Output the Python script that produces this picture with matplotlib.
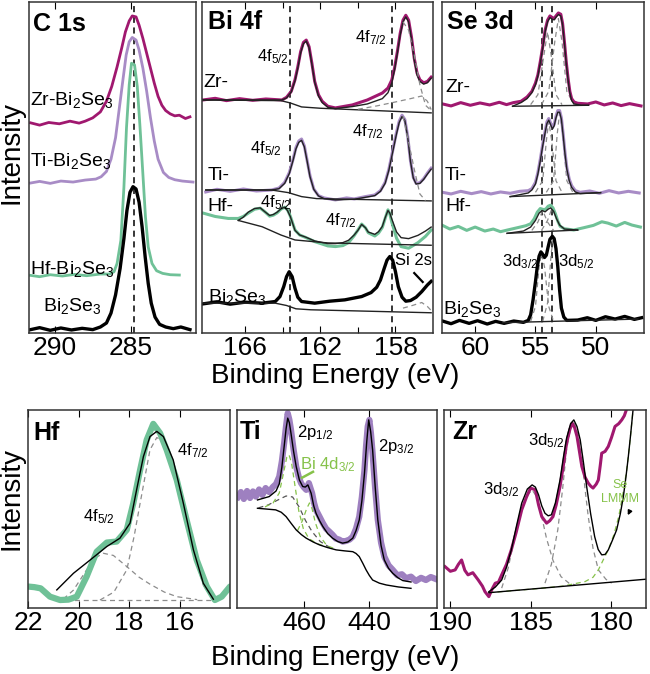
import numpy as np
import matplotlib
matplotlib.use("Agg")
import matplotlib.pyplot as plt

plt.rcParams["font.family"] = ["Liberation Sans", "DejaVu Sans"]
plt.rcParams["mathtext.default"] = "regular"

# ---------------- data (x in eV, y in % of panel height) ----------------
# C 1s
C1S_ZR = [(291.6, 63.5), (291.0, 62.8), (290.4, 63.6), (289.7, 63.2), (289.0, 64.0), (288.4, 63.4),
          (288.0, 64.0), (287.5, 65.0), (287.0, 66.8), (286.6, 70.0), (286.25, 74.5), (285.9, 80.4),
          (285.6, 86.0), (285.35, 91.0), (285.1, 94.3), (284.9, 95.8), (284.65, 95.5), (284.45, 93.0),
          (284.2, 89.0), (283.95, 84.5), (283.7, 80.0), (283.45, 75.5), (283.2, 71.5), (282.95, 68.8),
          (282.7, 67.2), (282.4, 66.2), (282.1, 65.6), (281.8, 65.8), (281.4, 64.8), (281.1, 65.3)]
C1S_TI = [(291.6, 45.3), (291.0, 45.8), (290.3, 45.2), (289.6, 45.9), (288.8, 45.6), (288.0, 46.2),
          (287.3, 46.5), (286.95, 47.2), (286.6, 48.8), (286.3, 52.5), (286.0, 59.0), (285.75, 68.0),
          (285.5, 77.0), (285.3, 84.0), (285.1, 88.0), (284.9, 89.3), (284.65, 88.5), (284.45, 85.5),
          (284.2, 80.0), (283.95, 73.0), (283.7, 65.0), (283.45, 58.0), (283.2, 52.5), (282.85, 48.5),
          (282.5, 47.0), (282.1, 46.3), (281.6, 45.9), (280.9, 45.6)]
C1S_HF = [(291.6, 17.4), (291.0, 17.0), (290.3, 17.6), (289.5, 17.2), (288.7, 17.7), (287.9, 17.3),
          (287.0, 17.8), (286.4, 17.8), (286.1, 18.5), (285.9, 21.0), (285.65, 28.0), (285.45, 44.0),
          (285.28, 62.0), (285.1, 75.0), (284.95, 81.5), (284.75, 81.0), (284.57, 74.5), (284.4, 63.0),
          (284.2, 48.0), (284.03, 35.0), (283.85, 26.0), (283.6, 21.0), (283.3, 18.8), (282.9, 18.0),
          (282.4, 17.6), (281.8, 17.5)]
C1S_BISE = [(291.6, 1.0), (291.0, 1.6), (290.3, 0.8), (289.6, 1.5), (288.9, 0.9), (288.2, 1.4),
            (287.5, 1.0), (287.0, 1.8), (286.6, 3.0), (286.3, 6.0), (286.0, 11.5), (285.7, 19.5),
            (285.45, 28.5), (285.25, 37.0), (285.05, 42.5), (284.85, 44.2), (284.65, 43.5), (284.45, 39.5),
            (284.25, 32.0), (284.05, 23.0), (283.85, 15.0), (283.65, 9.0), (283.4, 4.8), (283.1, 2.6),
            (282.7, 1.8), (282.2, 1.3), (281.7, 1.8), (281.1, 1.0)]
C1S_REF = 284.8

# Bi 4f
BI_ZR = [(168.25, 70.4), (167.6, 70.9), (167.0, 70.2), (166.3, 70.8), (165.6, 70.3), (164.9, 70.7),
         (164.05, 70.4), (163.8, 71.2), (163.55, 73.0), (163.35, 76.5), (163.2, 80.4), (163.05, 85.0),
         (162.9, 87.8), (162.75, 88.5), (162.6, 86.5), (162.45, 81.5), (162.3, 76.0), (162.1, 72.0),
         (161.9, 70.0), (161.6, 68.5), (161.2, 68.0), (160.3, 68.9), (159.5, 70.4), (158.7, 72.5),
         (158.4, 74.0), (158.2, 76.4), (158.05, 80.0), (157.9, 85.0), (157.75, 90.5), (157.6, 94.5),
         (157.45, 96.0), (157.3, 94.5), (157.15, 89.5), (157.0, 83.0), (156.85, 78.5), (156.7, 76.5),
         (156.5, 75.6), (156.3, 76.0), (156.1, 77.3)]
BI_ZR_FIT = [(168.25, 70.4), (164.05, 70.4), (163.8, 71.0), (163.55, 72.8), (163.35, 76.2), (163.2, 80.0),
             (163.05, 84.6), (162.9, 87.4), (162.75, 88.2), (162.6, 86.2), (162.45, 81.2), (162.3, 75.8),
             (162.1, 71.6), (161.9, 69.6), (161.6, 68.2), (161.2, 67.8), (160.3, 68.4), (159.5, 69.2),
             (158.7, 70.8), (158.4, 72.6), (158.2, 75.5), (158.05, 79.5), (157.9, 84.5), (157.75, 90.0),
             (157.6, 94.0), (157.45, 95.5), (157.3, 94.0), (157.15, 89.0), (157.0, 82.5), (156.85, 78.0),
             (156.7, 76.0), (156.5, 75.2), (156.3, 75.6), (156.1, 77.0)]
BI_ZR_BG = [(168.25, 70.4), (164.1, 70.2), (163.6, 69.5), (163.0, 68.3), (162.0, 67.9), (156.1, 66.5)]
BI_ZR_C1 = [(160.0, 67.6), (159.0, 68.6), (158.0, 69.8), (157.2, 70.8), (156.6, 71.6), (156.3, 70.0), (156.1, 67.5)]
BI_ZR_C2 = [(157.6, 94.0), (157.3, 91.5), (157.0, 84.0), (156.7, 75.0), (156.4, 68.8), (156.1, 67.2)]

BI_TI = [(168.1, 42.6), (167.5, 43.4), (166.8, 42.8), (166.1, 43.5), (165.4, 42.9), (164.6, 43.2),
         (164.2, 43.8), (163.9, 45.5), (163.65, 48.5), (163.45, 52.5), (163.3, 56.0), (163.15, 58.0),
         (163.0, 58.6), (162.85, 56.5), (162.7, 52.0), (162.55, 47.5), (162.35, 43.5), (162.1, 41.5),
         (161.8, 40.8), (161.2, 40.2), (160.6, 40.8), (160.2, 40.5), (159.6, 41.2), (159.1, 41.7),
         (158.8, 43.0), (158.55, 45.5), (158.35, 49.5), (158.15, 55.0), (157.95, 60.5), (157.8, 64.0),
         (157.65, 65.8), (157.5, 64.5), (157.35, 59.5), (157.2, 52.0), (157.05, 47.0), (156.9, 45.2),
         (156.7, 45.4), (156.5, 46.6), (156.3, 48.3), (156.1, 49.8)]
BI_TI_FIT = [(168.1, 43.2), (164.6, 43.2), (164.2, 43.6), (163.9, 45.2), (163.65, 48.2), (163.45, 52.2),
             (163.3, 55.6), (163.15, 57.6), (163.0, 58.2), (162.85, 56.2), (162.7, 51.8), (162.55, 47.2),
             (162.35, 43.4), (162.1, 41.4), (161.8, 40.6), (161.2, 40.2), (160.2, 40.4), (159.1, 41.5),
             (158.8, 42.8), (158.55, 45.2), (158.35, 49.2), (158.15, 54.6), (157.95, 60.0), (157.8, 63.6),
             (157.65, 65.4), (157.5, 64.2), (157.35, 59.2), (157.2, 51.8), (157.05, 46.8), (156.9, 45.0),
             (156.7, 45.2), (156.5, 46.4), (156.3, 48.0), (156.1, 49.5)]
BI_TI_BG = [(168.1, 43.2), (164.6, 43.2), (163.7, 42.4), (163.0, 41.2), (162.2, 40.6), (156.1, 39.9)]
BI_TI_C1 = [(157.6, 65.5), (157.33, 58.5), (157.0, 49.5), (156.7, 42.0), (156.4, 40.0)]

BI_HF = [(168.23, 36.2), (167.6, 35.2), (166.9, 34.6), (166.37, 34.6), (166.1, 35.2), (165.84, 36.2),
         (165.5, 37.4), (165.2, 37.7), (164.95, 36.6), (164.7, 35.3), (164.5, 35.6), (164.3, 36.3),
         (164.1, 37.4), (163.9, 38.0), (163.75, 37.2), (163.6, 35.3), (163.35, 31.1), (163.1, 29.6),
         (162.8, 28.9), (162.3, 27.6), (161.6, 26.3), (161.2, 26.1), (160.8, 26.4), (160.5, 27.3),
         (160.2, 29.4), (160.0, 31.1), (159.8, 32.9), (159.6, 31.8), (159.45, 30.3), (159.1, 29.3),
         (158.9, 30.2), (158.7, 31.9), (158.55, 34.6), (158.4, 37.2), (158.3, 36.0), (158.2, 33.6),
         (157.94, 28.6), (157.7, 26.1), (157.3, 25.6), (156.8, 27.3), (156.4, 29.2), (156.1, 31.1)]
BI_HF_FIT = [(166.37, 34.0), (166.1, 35.0), (165.84, 36.5), (165.5, 37.6), (165.2, 37.8), (164.95, 36.6),
             (164.7, 35.5), (164.5, 35.8), (164.3, 36.5), (164.1, 37.5), (163.9, 38.0), (163.75, 37.0),
             (163.6, 35.2), (163.35, 31.0), (163.1, 29.6), (162.8, 29.0), (162.3, 27.8), (161.6, 27.0),
             (161.2, 27.0), (160.8, 27.3), (160.5, 28.0), (160.2, 29.6), (160.0, 31.0), (159.8, 32.8),
             (159.6, 31.8), (159.45, 30.5), (159.1, 29.8), (158.9, 30.6), (158.7, 32.2), (158.55, 34.8),
             (158.4, 37.0), (158.3, 36.2), (158.2, 34.5), (157.94, 30.5), (157.7, 28.8), (157.3, 28.5),
             (156.8, 29.5), (156.4, 30.8), (156.1, 32.0)]
BI_HF_BG = [(166.37, 34.0), (165.1, 32.1), (164.1, 29.6), (163.35, 28.1), (161.6, 27.2), (156.1, 26.5)]

BI_BISE = [(168.23, 8.8), (167.5, 9.4), (166.8, 8.7), (166.0, 9.3), (165.1, 9.0), (164.4, 9.5),
           (164.15, 11.0), (163.95, 14.0), (163.8, 17.0), (163.66, 18.5), (163.5, 17.0), (163.35, 13.5),
           (163.2, 10.8), (163.0, 9.5), (162.3, 9.0), (161.5, 9.6), (160.7, 10.0), (159.8, 11.0),
           (159.3, 12.2), (159.0, 13.8), (158.8, 16.0), (158.6, 19.5), (158.45, 22.0), (158.3, 23.1),
           (158.15, 22.0), (158.0, 18.5), (157.85, 14.0), (157.65, 10.8), (157.45, 9.6), (157.2, 9.8),
           (156.9, 10.8), (156.6, 12.5), (156.3, 14.5), (156.1, 15.6)]
BI_BISE_BG = [(168.2, 9.0), (164.4, 9.0), (163.8, 8.3), (163.3, 7.3), (162.5, 7.0), (156.1, 6.1)]
BI_BISE_C1 = [(157.6, 7.5), (157.1, 8.3), (156.6, 9.2), (156.3, 8.0), (156.1, 6.8)]
BI_REF = [163.6, 158.2]

# Se 3d
SE_ZR = [(62.7, 69.2), (62.0, 68.6), (61.2, 69.6), (60.4, 68.8), (59.6, 69.5), (58.8, 68.9), (58.0, 69.7),
         (57.4, 69.0), (56.83, 69.6), (56.2, 70.0), (55.7, 71.3), (55.3, 73.0), (55.0, 75.5), (54.8, 78.0),
         (54.6, 82.0), (54.4, 86.5), (54.2, 91.5), (54.0, 94.5), (53.8, 95.8), (53.6, 95.3), (53.45, 95.0),
         (53.3, 95.8), (53.1, 96.7), (52.9, 96.3), (52.75, 93.5), (52.6, 88.0), (52.45, 82.0), (52.3, 77.0),
         (52.15, 73.0), (52.0, 70.8), (51.8, 69.8), (51.5, 69.4), (50.67, 69.2), (50.0, 69.8), (49.3, 68.9),
         (48.6, 69.5), (47.9, 68.7), (47.2, 69.3), (46.25, 68.6)]
SE_ZR_FIT = [(56.9, 68.5), (56.2, 69.6), (55.7, 70.8), (55.3, 72.6), (55.0, 75.0), (54.8, 77.6), (54.6, 81.6),
             (54.4, 86.0), (54.2, 91.0), (54.0, 94.0), (53.8, 95.3), (53.6, 94.8), (53.45, 94.6), (53.3, 95.4),
             (53.1, 96.2), (52.9, 95.8), (52.75, 93.0), (52.6, 87.5), (52.45, 81.5), (52.3, 76.5),
             (52.15, 72.5), (52.0, 70.2), (51.8, 69.2), (51.2, 68.8), (50.6, 68.8)]
SE_ZR_BG = [(56.9, 68.5), (50.6, 68.8)]
SE_ZR_C1 = [(55.4, 69.0), (54.8, 72.0), (54.3, 84.0), (54.0, 91.0), (53.7, 84.0), (53.3, 72.0), (52.8, 69.0)]
SE_ZR_C2 = [(54.5, 69.0), (53.9, 73.0), (53.4, 88.0), (53.1, 95.0), (52.8, 88.0), (52.4, 73.0), (51.8, 69.0)]

SE_TI = [(62.7, 42.5), (62.0, 42.0), (61.2, 42.8), (60.3, 42.1), (59.5, 42.7), (58.7, 42.0), (57.9, 42.6),
         (57.1, 42.2), (56.3, 42.8), (55.6, 43.0), (55.3, 43.6), (55.0, 45.5), (54.8, 48.5), (54.6, 52.5),
         (54.4, 57.0), (54.2, 61.0), (54.05, 63.8), (53.9, 64.8), (53.75, 63.5), (53.6, 62.0), (53.45, 63.0),
         (53.3, 65.5), (53.15, 67.2), (53.0, 67.2), (52.85, 65.0), (52.7, 60.0), (52.55, 54.5), (52.4, 50.0),
         (52.2, 46.5), (52.0, 44.5), (51.7, 43.0), (51.3, 42.5), (50.5, 42.9), (49.7, 42.2), (48.9, 43.0),
         (48.1, 42.3), (47.3, 42.8), (46.4, 42.3)]
SE_TI_FIT = [(57.1, 41.2), (55.6, 42.3), (55.3, 43.2), (55.0, 45.0), (54.8, 48.0), (54.6, 52.0), (54.4, 56.5),
             (54.2, 60.5), (54.05, 63.3), (53.9, 64.3), (53.75, 63.0), (53.6, 61.6), (53.45, 62.6),
             (53.3, 65.0), (53.15, 66.7), (53.0, 66.7), (52.85, 64.5), (52.7, 59.5), (52.55, 54.0),
             (52.4, 49.5), (52.2, 46.0), (52.0, 44.0), (51.7, 42.6), (51.3, 42.1), (49.6, 42.4)]
SE_TI_BG = [(57.1, 41.2), (49.6, 42.4)]
SE_TI_C1 = [(55.0, 42.5), (54.4, 46.0), (54.1, 58.0), (53.9, 64.0), (53.65, 58.0), (53.3, 46.0), (52.8, 42.5)]
SE_TI_C2 = [(54.1, 42.5), (53.5, 46.0), (53.2, 60.0), (53.0, 66.5), (52.75, 60.0), (52.4, 46.0), (51.9, 42.5)]

SE_HF = [(62.7, 32.5), (62.1, 31.4), (61.4, 32.2), (60.7, 31.0), (60.0, 32.0), (59.2, 30.8), (58.5, 31.4),
         (57.9, 30.6), (57.33, 31.1), (56.5, 31.8), (55.8, 32.4), (55.4, 33.0), (55.1, 34.5), (54.85, 36.5),
         (54.6, 37.6), (54.35, 37.3), (54.15, 37.4), (53.95, 38.3), (53.75, 38.6), (53.55, 37.8),
         (53.35, 36.0), (53.15, 33.8), (52.95, 32.2), (52.6, 31.5), (51.83, 31.1), (51.0, 31.8),
         (50.2, 32.5), (49.5, 33.6), (49.0, 33.2), (48.3, 32.3), (47.6, 33.4), (47.0, 32.6), (46.3, 32.0)]
SE_HF_FIT = [(57.35, 30.1), (56.0, 30.8), (55.4, 32.0), (55.0, 34.0), (54.7, 36.2), (54.45, 37.0), (54.2, 36.6),
             (53.95, 37.4), (53.75, 37.8), (53.5, 36.8), (53.25, 34.5), (53.0, 32.6), (52.6, 31.4), (51.5, 31.1)]
SE_HF_BG = [(57.35, 30.1), (51.5, 31.1)]
SE_HF_C1 = [(55.3, 31.0), (54.8, 33.5), (54.4, 37.0), (54.0, 33.5), (53.5, 31.0)]
SE_HF_C2 = [(54.5, 31.0), (54.0, 34.0), (53.6, 38.0), (53.2, 34.0), (52.7, 31.0)]

SE_BISE = [(62.7, 3.6), (62.0, 2.8), (61.3, 3.8), (60.5, 2.9), (59.8, 3.7), (59.0, 2.7), (58.3, 3.5),
           (57.6, 2.9), (56.8, 3.6), (56.0, 3.2), (55.6, 3.8), (55.4, 5.5), (55.2, 10.0), (55.0, 15.5),
           (54.85, 20.0), (54.7, 23.2), (54.55, 24.5), (54.4, 23.8), (54.25, 22.8), (54.1, 23.5),
           (53.95, 26.0), (53.8, 28.3), (53.6, 29.2), (53.45, 28.5), (53.3, 25.5), (53.15, 20.0),
           (53.0, 13.0), (52.85, 7.5), (52.65, 4.8), (52.4, 3.8), (51.5, 3.9), (50.7, 4.6), (50.0, 3.8),
           (49.2, 4.9), (48.4, 4.2), (47.6, 5.0), (46.8, 4.1), (46.2, 4.6)]
SE_BISE_BG = [(57.7, 3.1), (46.5, 4.2)]
SE_BISE_C1 = [(55.4, 3.5), (55.0, 8.0), (54.7, 20.0), (54.5, 24.0), (54.25, 20.0), (53.9, 8.0), (53.5, 3.5)]
SE_BISE_C2 = [(54.4, 3.5), (54.0, 9.0), (53.7, 24.0), (53.5, 29.0), (53.25, 24.0), (52.9, 9.0), (52.5, 3.5)]
SE_REF = [54.45, 53.6]

# Hf 4f
HF_DATA = [(22.0, 10.8), (21.75, 10.5), (21.5, 9.9), (21.13, 5.7), (20.73, 4.0), (20.4, 4.2), (20.07, 5.7),
           (19.68, 15.8), (19.28, 28.4), (18.88, 33.0), (18.49, 33.5), (18.09, 39.4), (17.83, 52.9),
           (17.56, 69.7), (17.3, 84.8), (17.04, 92.9), (16.77, 88.2), (16.51, 79.8), (16.11, 64.6),
           (15.72, 44.4), (15.32, 24.2), (14.92, 10.8), (14.6, 4.0), (14.33, 5.7), (14.0, 10.8)]
HF_FIT = [(20.86, 9.1), (20.2, 17.5), (19.54, 24.2), (18.88, 31.0), (18.36, 35.2), (17.96, 42.8),
          (17.7, 59.6), (17.43, 76.4), (17.17, 86.5), (16.9, 89.1), (16.64, 86.5), (16.25, 74.7),
          (15.85, 52.9), (15.45, 29.3), (15.06, 12.5), (14.66, 4.4)]
HF_C72 = [(19.15, 4.0), (18.6, 8.0), (18.09, 19.2), (17.8, 36.0), (17.56, 52.9), (17.17, 79.8), (16.9, 86.0),
          (16.64, 84.0), (16.25, 72.0), (15.85, 51.0), (15.45, 28.0), (15.06, 11.5), (14.66, 4.4)]
HF_C52 = [(20.6, 4.5), (20.2, 9.0), (19.68, 19.2), (19.3, 25.5), (19.02, 27.6), (18.62, 26.5), (18.09, 20.9),
          (17.6, 15.5), (17.17, 12.0), (16.6, 8.0), (16.11, 5.7), (15.3, 4.2)]
HF_BASE = [(20.86, 4.0), (14.66, 4.0)]

# Ti 2p
TI_DATA = [(480.3, 56.0), (479.4, 58.5), (478.5, 55.0), (477.5, 59.0), (476.6, 55.5), (475.7, 58.8),
           (474.8, 56.2), (473.8, 59.8), (472.8, 57.0), (471.8, 60.5), (470.7, 58.5), (469.6, 61.0),
           (468.6, 62.5), (467.6, 66.3), (466.8, 74.0), (466.1, 83.2), (465.5, 92.0), (465.0, 98.3),
           (464.5, 95.0), (464.0, 89.9), (463.2, 80.0), (462.4, 71.4), (461.6, 66.0), (460.9, 63.0),
           (460.1, 61.0), (459.3, 59.6), (458.5, 63.0), (457.5, 57.9), (456.9, 53.0), (456.3, 49.5),
           (455.2, 46.0), (454.2, 42.8), (453.2, 40.0), (452.2, 38.5), (451.2, 36.9), (450.2, 35.0),
           (449.2, 34.5), (448.1, 33.5), (447.1, 33.8), (446.0, 34.5), (445.0, 36.0), (444.0, 40.0),
           (443.0, 46.1), (442.2, 56.0), (441.4, 69.7), (440.9, 82.0), (440.4, 91.6), (439.9, 94.9),
           (439.4, 88.0), (438.9, 78.1), (438.1, 60.0), (437.3, 44.4), (436.3, 33.0), (435.3, 25.9),
           (434.0, 21.5), (432.7, 19.2), (431.3, 16.5), (429.9, 17.0), (428.6, 15.0), (427.1, 15.8),
           (425.6, 13.6), (424.0, 15.2), (422.5, 14.1), (421.0, 15.6), (419.3, 14.5)]
TI_FIT = [(474.3, 54.5), (470.7, 56.2), (468.6, 59.0), (467.6, 62.6), (466.8, 71.0), (466.1, 81.5),
          (465.5, 90.5), (465.0, 95.8), (464.5, 93.5), (464.0, 88.2), (463.2, 79.0), (462.4, 71.4),
          (461.4, 64.5), (460.4, 61.3), (459.6, 61.0), (458.8, 62.1), (457.8, 57.9), (457.0, 51.5),
          (456.3, 47.8), (455.2, 44.0), (454.2, 41.1), (452.7, 37.5), (451.2, 35.2), (449.6, 33.5),
          (448.1, 32.7), (446.5, 33.3), (445.0, 35.2), (444.0, 39.0), (443.0, 44.4), (442.2, 54.0),
          (441.4, 68.0), (440.7, 84.0), (440.1, 94.9), (439.5, 89.0), (438.9, 79.8), (438.1, 61.0),
          (437.3, 44.4), (436.3, 31.5), (435.3, 24.2), (434.0, 20.0), (432.7, 17.5), (431.1, 15.2),
          (429.6, 13.8), (427.1, 13.1)]
TI_BG = [(474.3, 50.3), (468.7, 49.5), (467.0, 48.3), (465.5, 46.1), (464.0, 42.8), (462.4, 39.4),
         (460.8, 37.0), (459.3, 35.2), (457.2, 33.3), (455.2, 31.8), (452.6, 30.4), (450.1, 29.3),
         (447.5, 28.8), (445.0, 28.4), (444.0, 27.5), (443.0, 25.9), (441.9, 22.5), (440.9, 19.2),
         (439.9, 16.4), (438.9, 14.1), (436.8, 12.5), (434.7, 11.6), (431.0, 10.6), (427.1, 9.9)]
TI_BI1 = [(472.0, 51.0), (469.5, 53.0), (467.6, 58.0), (466.3, 68.0), (465.3, 76.0), (464.6, 77.3),
          (463.8, 73.0), (462.8, 62.0), (461.6, 49.0), (460.2, 40.0), (458.5, 35.0), (456.0, 32.5), (453.0, 30.8)]
TI_BI2 = [(462.0, 39.0), (460.5, 44.0), (459.2, 50.0), (458.3, 53.0), (457.5, 50.0), (456.5, 43.0),
          (455.0, 36.0), (453.0, 31.5), (450.0, 29.5)]
TI_C12 = [(474.0, 50.5), (471.0, 52.0), (468.0, 54.5), (465.5, 56.5), (463.5, 56.0), (461.5, 51.0),
          (459.5, 44.0), (457.5, 38.5), (455.0, 33.5), (452.0, 30.5)]

# Zr 3d
ZR_DATA = [(190.34, 20.9), (190.0, 18.5), (189.7, 19.2), (189.5, 22.0), (189.3, 24.2), (189.1, 19.0),
           (188.9, 16.7), (188.6, 17.8), (188.26, 14.1), (188.0, 11.0), (187.84, 8.2), (187.6, 5.7),
           (187.4, 9.5), (187.2, 12.5), (187.0, 13.0), (186.8, 16.7), (186.5, 22.0), (186.2, 29.3),
           (185.9, 38.0), (185.55, 49.5), (185.25, 56.0), (185.0, 60.5), (184.7, 59.6), (184.5, 52.0),
           (184.3, 46.1), (184.0, 42.8), (183.8, 44.0), (183.6, 46.1), (183.4, 52.0), (183.16, 61.3),
           (182.95, 72.0), (182.75, 83.2), (182.55, 90.0), (182.4, 93.3), (182.25, 91.0), (182.1, 86.5),
           (181.95, 79.0), (181.8, 71.4), (181.6, 66.0), (181.4, 63.0), (181.25, 61.5), (181.1, 60.5),
           (180.9, 62.5), (180.77, 64.6), (180.65, 72.0), (180.56, 78.1), (180.35, 79.0), (180.15, 81.5),
           (179.95, 86.0), (179.73, 91.6), (179.5, 93.0), (179.31, 94.9), (179.15, 97.0), (179.0, 100.5)]
ZR_FIT = [(187.6, 8.2), (187.2, 10.5), (186.8, 14.1), (186.5, 20.5), (186.2, 29.3), (185.9, 40.5),
          (185.55, 52.9), (185.2, 60.0), (184.9, 62.1), (184.7, 61.0), (184.5, 57.1), (184.3, 51.5),
          (184.1, 47.8), (183.9, 46.5), (183.7, 47.0), (183.45, 53.0), (183.16, 64.6), (182.95, 76.0),
          (182.75, 85.7), (182.5, 93.0), (182.3, 94.9), (182.1, 91.5), (181.9, 84.8), (181.7, 73.5),
          (181.5, 61.3), (181.25, 47.5), (181.0, 36.0), (180.78, 29.5), (180.56, 26.8), (180.35, 27.0),
          (180.15, 29.3), (179.9, 34.0), (179.63, 39.4), (179.4, 47.5), (179.21, 56.2), (179.05, 66.0),
          (178.9, 76.4), (178.75, 88.0), (178.6, 100.5)]
ZR_BG = [(187.6, 7.7), (177.8, 14.5)]
ZR_C32 = [(186.8, 10.0), (186.4, 20.0), (186.0, 35.0), (185.55, 49.5), (185.2, 57.0), (184.9, 59.5),
          (184.6, 56.0), (184.3, 46.0), (184.0, 35.0), (183.6, 24.0), (183.1, 15.8), (182.6, 12.5), (182.2, 11.6)]
ZR_C52 = [(184.1, 12.5), (183.7, 22.0), (183.3, 39.4), (183.0, 60.0), (182.75, 80.0), (182.5, 91.0),
          (182.3, 94.0), (182.05, 88.0), (181.8, 76.4), (181.6, 60.0), (181.4, 46.1), (181.1, 30.0),
          (180.77, 19.2), (180.3, 14.5), (179.94, 12.5)]
ZR_SE = [(187.6, 7.7), (186.0, 8.8), (184.5, 9.8), (183.0, 11.0), (181.6, 13.3), (181.1, 15.5),
         (180.77, 19.2), (180.45, 24.5), (180.15, 29.3), (179.8, 37.0), (179.5, 46.1), (179.25, 57.0),
         (179.0, 69.7), (178.8, 84.0), (178.6, 100.5)]

# colours
MAG = "#a0186f"
LAV = "#a88cc6"
GRN = "#6fc197"
TIP = "#9e80c0"
DASH = "#8c8c8c"
LIME = "#86c24a"


def line(ax, pts, **kw):
    x, y = np.asarray(pts, dtype=float).T
    ax.plot(x, y, **kw)


def dashed(ax, pts, color=DASH, lw=0.9):
    line(ax, pts, color=color, lw=lw, ls=(0, (4, 3)))


def setup(ax, xlim, major, minor=None):
    ax.set_xlim(*xlim)
    ax.set_ylim(0, 100)
    ax.set_xticks(major)
    if minor:
        ax.set_xticks(minor, minor=True)
    ax.set_yticks([])
    ax.tick_params(axis="x", which="both", direction="in", top=True, labelsize=19,
                   pad=2, length=5, width=0.8)
    ax.tick_params(axis="x", which="minor", length=4)
    for s in ax.spines.values():
        s.set_linewidth(1.1)
        s.set_color("#333333")


def label(ax, x, y, s, size=14, **kw):
    kw.setdefault("ha", "left")
    kw.setdefault("va", "center")
    ax.text(x, y, s, transform=ax.transAxes, fontsize=size, **kw)


fig = plt.figure(figsize=(6.5, 6.74), dpi=100)

top_b, top_h = 0.506, 0.491
bot_b, bot_h = 0.098, 0.294
ax_c = fig.add_axes([0.0446, top_b, 0.257, top_h])
ax_bi = fig.add_axes([0.3108, top_b, 0.3554, top_h])
ax_se = fig.add_axes([0.680, top_b, 0.3108, top_h])
ax_hf = fig.add_axes([0.0431, bot_b, 0.3108, bot_h])
ax_ti = fig.add_axes([0.3646, bot_b, 0.3077, bot_h])
ax_zr = fig.add_axes([0.683, bot_b, 0.3108, bot_h])

# ---- C 1s ----
setup(ax_c, (291.7, 280.7), [290, 285])
ax_c.axvline(C1S_REF, color="k", lw=1.1, ls=(0, (4, 3)))
line(ax_c, C1S_ZR, color=MAG, lw=2.0)
line(ax_c, C1S_TI, color=LAV, lw=2.0)
line(ax_c, C1S_HF, color=GRN, lw=2.0)
line(ax_c, C1S_BISE, color="k", lw=2.4)
label(ax_c, 0.025, 0.935, "C 1s", size=18, fontweight="bold")
label(ax_c, 0.008, 0.705, "Zr-Bi$_2$Se$_3$")
label(ax_c, 0.008, 0.520, "Ti-Bi$_2$Se$_3$")
label(ax_c, 0.008, 0.192, "Hf-Bi$_2$Se$_3$")
label(ax_c, 0.085, 0.082, "Bi$_2$Se$_3$")

# ---- Bi 4f ----
setup(ax_bi, (168.3, 156.0), [166, 162, 158], [164, 160])
for e in BI_REF:
    ax_bi.axvline(e, color="k", lw=1.1, ls=(0, (4, 3)))
line(ax_bi, BI_ZR, color=MAG, lw=2.2)
line(ax_bi, BI_ZR_FIT, color="#222222", lw=1.0)
line(ax_bi, BI_ZR_BG, color="#222222", lw=1.0)
dashed(ax_bi, BI_ZR_C1)
dashed(ax_bi, BI_ZR_C2)
line(ax_bi, BI_TI, color=LAV, lw=2.2)
line(ax_bi, BI_TI_FIT, color="#222222", lw=1.0)
line(ax_bi, BI_TI_BG, color="#222222", lw=1.0)
dashed(ax_bi, BI_TI_C1)
line(ax_bi, BI_HF, color=GRN, lw=2.2)
line(ax_bi, BI_HF_FIT, color="#222222", lw=1.0)
line(ax_bi, BI_HF_BG, color="#222222", lw=1.0)
line(ax_bi, BI_BISE, color="k", lw=2.4)
line(ax_bi, BI_BISE_BG, color="#222222", lw=1.0)
dashed(ax_bi, BI_BISE_C1)
ax_bi.plot([157.0, 156.55], [18.1, 15.4], color="k", lw=1.6)
label(ax_bi, 0.025, 0.94, "Bi 4f", size=18, fontweight="bold")
label(ax_bi, 0.005, 0.757, "Zr-")
label(ax_bi, 0.238, 0.835, "4f$_{5/2}$", size=12)
label(ax_bi, 0.662, 0.893, "4f$_{7/2}$", size=12)
label(ax_bi, 0.025, 0.475, "Ti-")
label(ax_bi, 0.208, 0.558, "4f$_{5/2}$", size=12)
label(ax_bi, 0.649, 0.608, "4f$_{7/2}$", size=12)
label(ax_bi, 0.022, 0.383, "Hf-")
label(ax_bi, 0.251, 0.395, "4f$_{5/2}$", size=12)
label(ax_bi, 0.532, 0.340, "4f$_{7/2}$", size=12)
label(ax_bi, 0.025, 0.108, "Bi$_2$Se$_3$")
label(ax_bi, 0.835, 0.218, "Si 2s", size=12)

# ---- Se 3d ----
setup(ax_se, (62.75, 46.0), [60, 55, 50])
for e in SE_REF:
    ax_se.axvline(e, color="k", lw=1.1, ls=(0, (4, 3)))
for comp in (SE_ZR_C1, SE_ZR_C2, SE_TI_C1, SE_TI_C2, SE_HF_C1, SE_HF_C2, SE_BISE_C1, SE_BISE_C2):
    dashed(ax_se, comp)
line(ax_se, SE_ZR, color=MAG, lw=2.2)
line(ax_se, SE_ZR_FIT, color="#222222", lw=1.0)
line(ax_se, SE_ZR_BG, color="#222222", lw=1.0)
line(ax_se, SE_TI, color=LAV, lw=2.2)
line(ax_se, SE_TI_FIT, color="#222222", lw=1.0)
line(ax_se, SE_TI_BG, color="#222222", lw=1.0)
line(ax_se, SE_HF, color=GRN, lw=2.2)
line(ax_se, SE_HF_FIT, color="#222222", lw=1.0)
line(ax_se, SE_HF_BG, color="#222222", lw=1.0)
line(ax_se, SE_BISE, color="k", lw=2.4)
line(ax_se, SE_BISE_BG, color="#222222", lw=1.0)
label(ax_se, 0.025, 0.94, "Se 3d", size=18, fontweight="bold")
label(ax_se, 0.015, 0.742, "Zr-")
label(ax_se, 0.015, 0.475, "Ti-")
label(ax_se, 0.015, 0.383, "Hf-")
label(ax_se, 0.295, 0.215, "3d$_{3/2}$", size=12)
label(ax_se, 0.572, 0.215, "3d$_{5/2}$", size=12)
label(ax_se, 0.005, 0.072, "Bi$_2$Se$_3$")

# ---- Hf 4f ----
setup(ax_hf, (22.0, 14.0), [22, 20, 18, 16])
dashed(ax_hf, HF_BASE)
dashed(ax_hf, HF_C52)
dashed(ax_hf, HF_C72)
line(ax_hf, HF_DATA, color=GRN, lw=4.5, solid_capstyle="round", solid_joinstyle="round")
line(ax_hf, HF_FIT, color="k", lw=1.0)
label(ax_hf, 0.025, 0.884, "Hf", size=18, fontweight="bold")
label(ax_hf, 0.738, 0.795, "4f$_{7/2}$", size=12)
label(ax_hf, 0.272, 0.462, "4f$_{5/2}$", size=12)

# ---- Ti 2p ----
setup(ax_ti, (480.6, 419.1), [460, 440])
line(ax_ti, TI_DATA, color=TIP, lw=4.5)
dashed(ax_ti, TI_C12, color="#555555")
dashed(ax_ti, TI_BI1, color=LIME)
dashed(ax_ti, TI_BI2, color=LIME)
line(ax_ti, TI_FIT, color="k", lw=1.0)
line(ax_ti, TI_BG, color="k", lw=1.0)
label(ax_ti, 0.015, 0.889, "Ti", size=18, fontweight="bold")
label(ax_ti, 0.30, 0.884, "2p$_{1/2}$", size=12)
label(ax_ti, 0.705, 0.815, "2p$_{3/2}$", size=12)
label(ax_ti, 0.315, 0.722, "Bi 4d$_{3/2}$", size=12, color=LIME)
ax_ti.plot([0.38, 0.325], [0.687, 0.657], transform=ax_ti.transAxes, color=LIME, lw=1.8)

# ---- Zr 3d ----
setup(ax_zr, (190.4, 177.8), [190, 185, 180])
dashed(ax_zr, ZR_C32)
dashed(ax_zr, ZR_C52)
dashed(ax_zr, ZR_SE, color=LIME)
line(ax_zr, ZR_DATA, color=MAG, lw=2.2)
line(ax_zr, ZR_FIT, color="k", lw=1.0)
line(ax_zr, ZR_BG, color="k", lw=1.0)
label(ax_zr, 0.04, 0.889, "Zr", size=18, fontweight="bold")
label(ax_zr, 0.416, 0.845, "3d$_{5/2}$", size=12)
label(ax_zr, 0.193, 0.598, "3d$_{3/2}$", size=12)
label(ax_zr, 0.871, 0.586, "Se\nLMMM", size=9, color=LIME, ha="center", linespacing=1.2)
ax_zr.annotate("", xy=(0.904, 0.455), xytext=(0.925, 0.50), xycoords="axes fraction",
               arrowprops=dict(arrowstyle="-|>", color="k", lw=1.2, mutation_scale=6))

# ---- shared labels ----
fig.text(0.515, 0.442, "Binding Energy (eV)", ha="center", va="center", fontsize=20)
fig.text(0.515, 0.024, "Binding Energy (eV)", ha="center", va="center", fontsize=20)
fig.text(0.018, 0.774, "Intensity", ha="center", va="center", rotation=90, fontsize=20)
fig.text(0.018, 0.261, "Intensity", ha="center", va="center", rotation=90, fontsize=20)

fig.savefig("out.png", dpi=100)
